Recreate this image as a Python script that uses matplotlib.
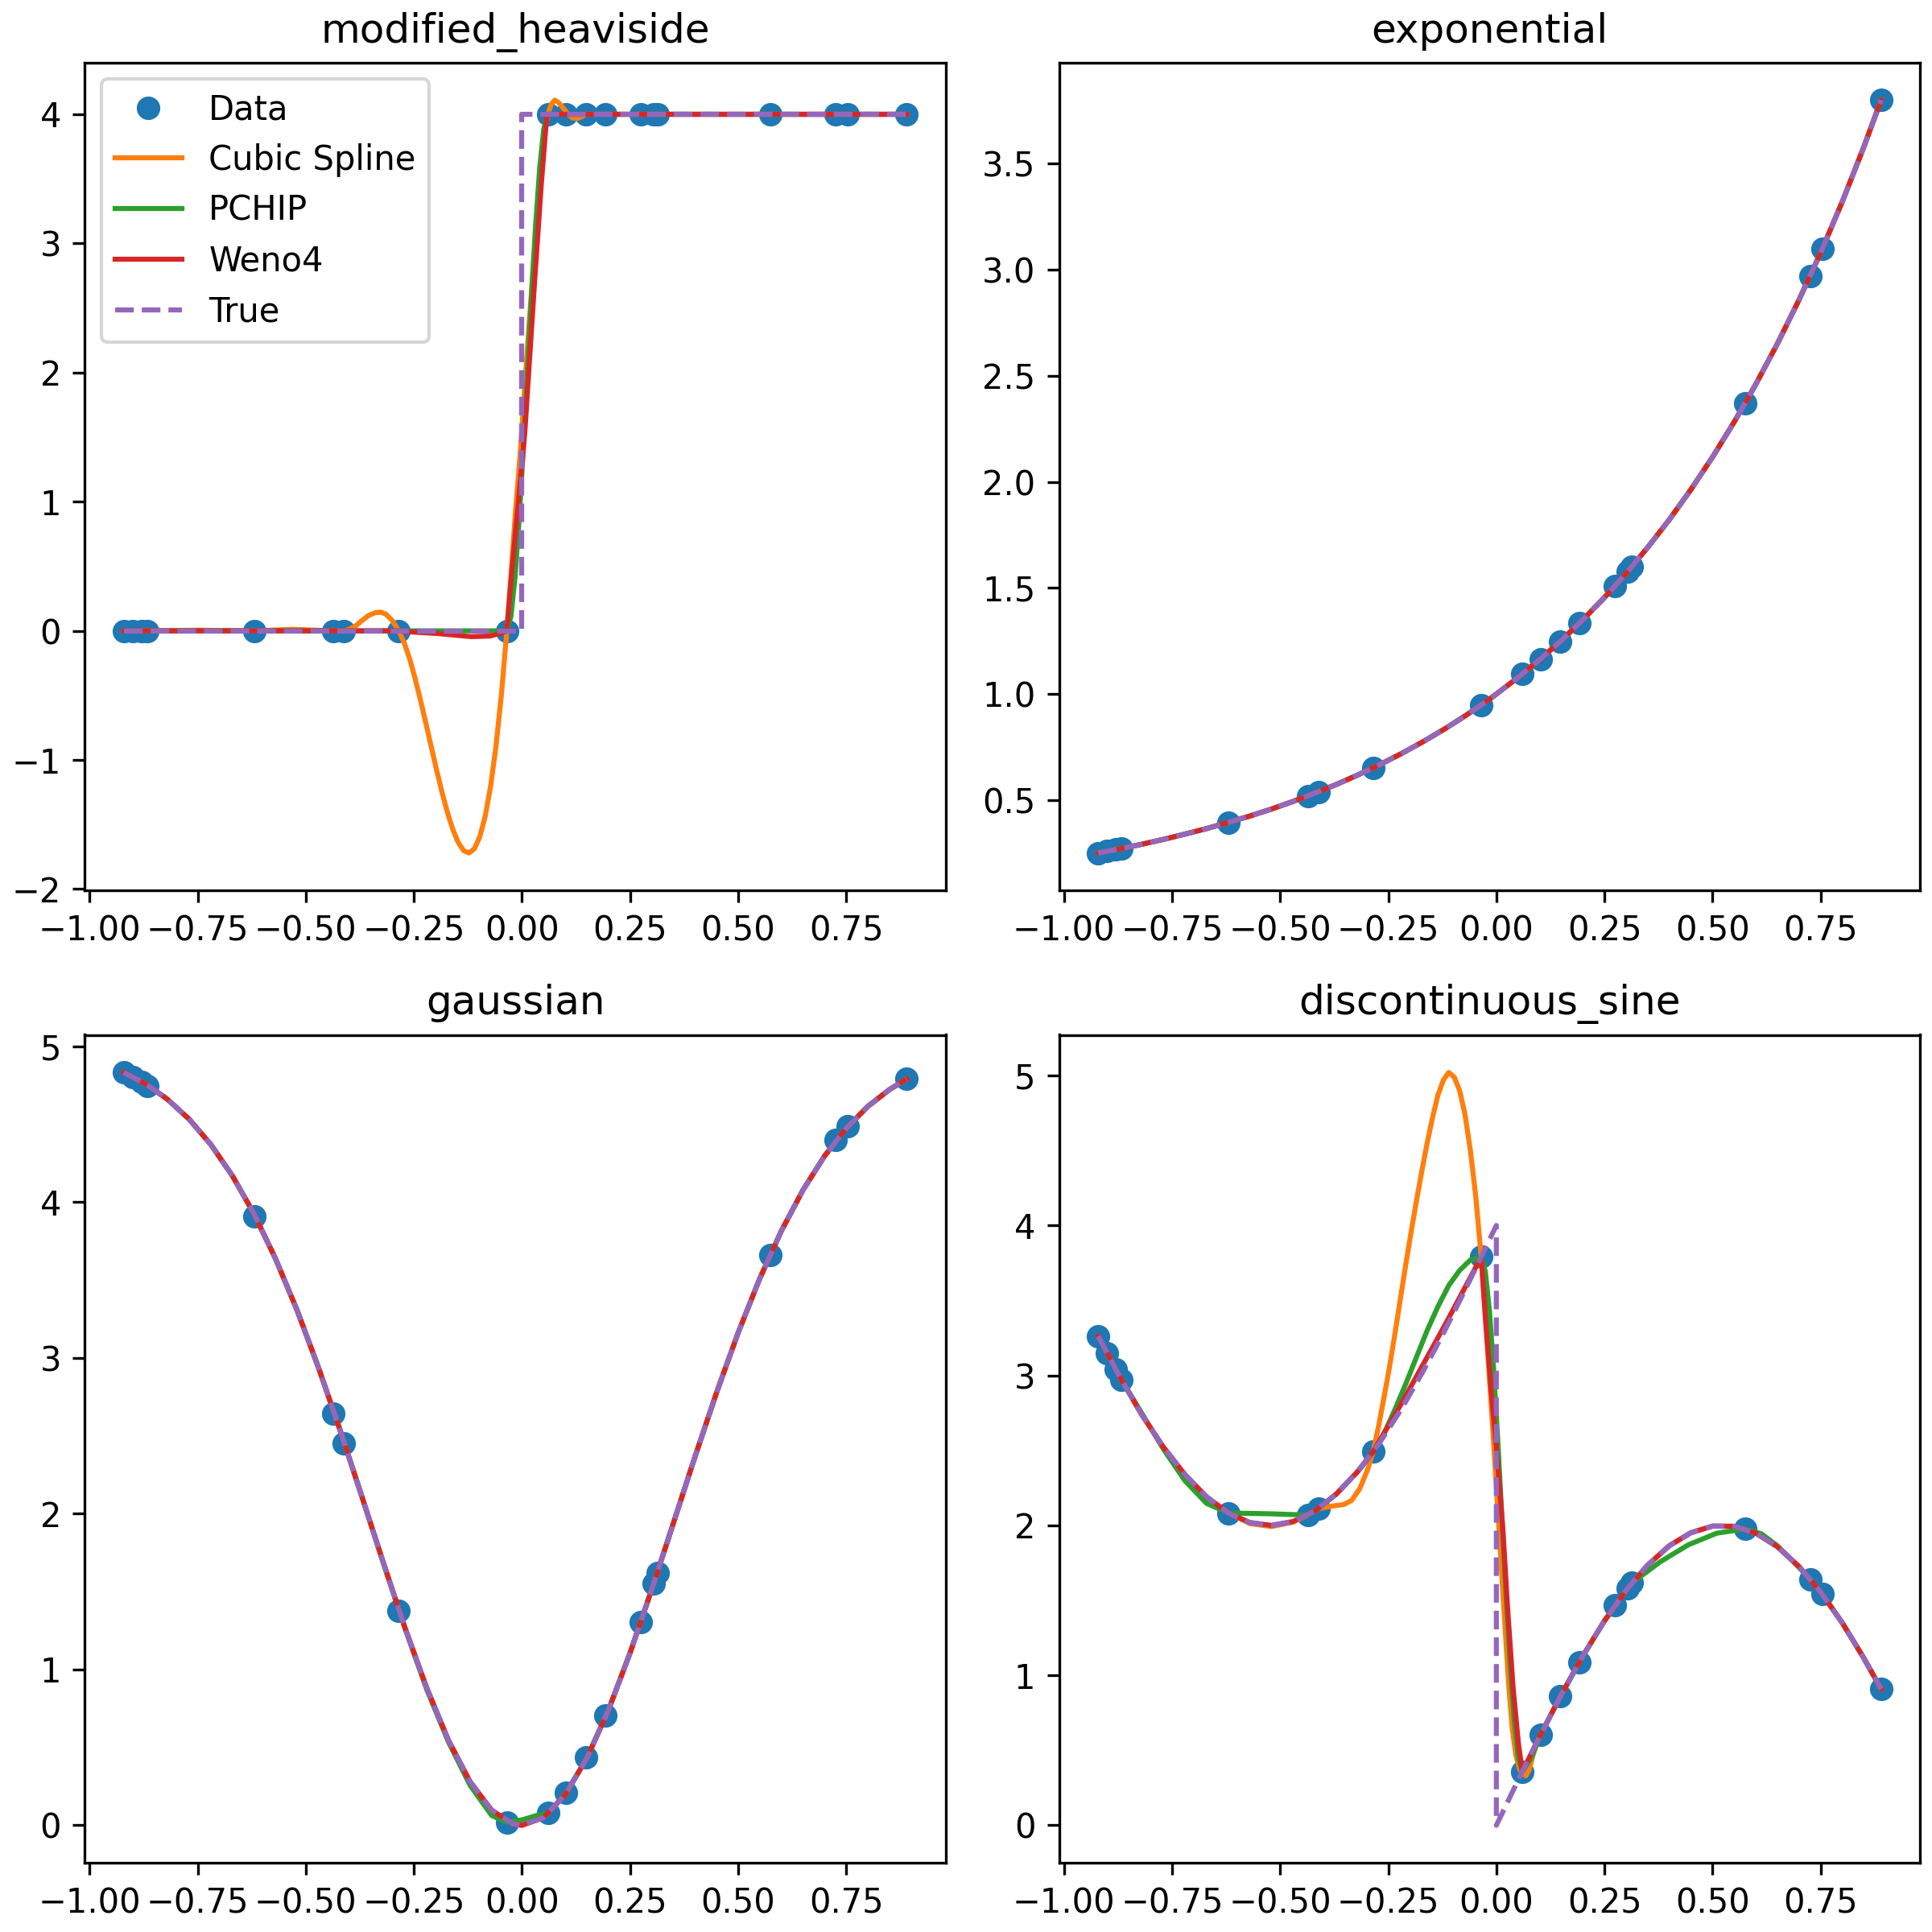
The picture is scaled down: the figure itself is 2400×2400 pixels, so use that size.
import numpy as np
import matplotlib.pyplot as plt

# sample points (same x in every panel)
x_data = [-0.921, -0.900, -0.880, -0.867, -0.619, -0.436, -0.412, -0.285, -0.035, 0.060,
          0.102, 0.148, 0.192, 0.275, 0.304, 0.314, 0.575, 0.726, 0.754, 0.890]

heaviside_data = [0, 0, 0, 0, 0, 0, 0, 0, 0, 4, 4, 4, 4, 4, 4, 4, 4, 4, 4, 4]
exponential_data = [0.251, 0.259, 0.267, 0.272, 0.395, 0.520, 0.539, 0.652, 0.949, 1.094,
                     1.165, 1.249, 1.334, 1.511, 1.578, 1.602, 2.369, 2.971, 3.099, 3.800]
gaussian_data = [4.831, 4.800, 4.770, 4.745, 3.907, 2.645, 2.449, 1.379, 0.019, 0.079,
                 0.207, 0.436, 0.706, 1.304, 1.551, 1.619, 3.659, 4.399, 4.489, 4.793]
sine_data = [3.261, 3.146, 3.039, 2.970, 2.082, 2.069, 2.111, 2.491, 3.790, 0.358,
             0.602, 0.859, 1.089, 1.469, 1.582, 1.617, 1.976, 1.642, 1.542, 0.909]

# curve read-off grid
x_left = [-0.921, -0.87, -0.82, -0.77, -0.72, -0.67, -0.62, -0.57, -0.52, -0.47,
          -0.42, -0.37, -0.32, -0.27, -0.22, -0.17, -0.12, -0.07, -0.02, 0.0]
x_right = [0.0, 0.05, 0.10, 0.15, 0.20, 0.25, 0.30, 0.35, 0.40, 0.45,
           0.50, 0.55, 0.60, 0.65, 0.70, 0.75, 0.80, 0.85, 0.89]

# --- modified_heaviside
heav_true_x = [-0.921, 0.0, 0.0, 0.89]
heav_true_y = [0, 0, 4, 4]

heav_cubic_x = [-0.921, -0.867, -0.75, -0.619, -0.53, -0.436, -0.412, -0.40, -0.384, -0.37,
                -0.355, -0.34, -0.327, -0.315, -0.30, -0.285, -0.2725, -0.26, -0.2475, -0.235,
                -0.2225, -0.21, -0.1975, -0.185, -0.1725, -0.16, -0.1475, -0.135, -0.1225, -0.11,
                -0.0975, -0.085, -0.0725, -0.06, -0.0475, -0.035, -0.025, -0.015, -0.005, 0.005,
                0.015, 0.025, 0.035, 0.045, 0.053, 0.060, 0.068, 0.076, 0.085, 0.095,
                0.107, 0.118, 0.130, 0.140, 0.148, 0.192, 0.89]
heav_cubic_y = [0, 0, 0.005, 0, 0.012, 0, 0, 0.012, 0.04, 0.08,
                0.118, 0.14, 0.145, 0.13, 0.08, 0, -0.091, -0.214, -0.364, -0.532,
                -0.711, -0.895, -1.077, -1.249, -1.405, -1.537, -1.638, -1.702, -1.720, -1.687,
                -1.594, -1.436, -1.204, -0.892, -0.493, 0, 0.45, 0.92, 1.33, 1.82,
                2.30, 2.76, 3.20, 3.60, 3.88, 4.0, 4.08, 4.11, 4.09, 4.05,
                4.0, 3.97, 3.97, 3.985, 4.0, 4.0, 4.0]

heav_pchip_x = [-0.921, -0.035, -0.0255, -0.016, -0.0065, 0.003, 0.0125, 0.022, 0.0315,
                0.041, 0.0505, 0.06, 0.89]
heav_pchip_y = [0, 0, 0.112, 0.416, 0.864, 1.408, 2.0, 2.592, 3.136, 3.584, 3.888, 4.0, 4.0]

heav_weno_x = [-0.921, -0.285, -0.26, -0.198, -0.117, -0.074, -0.05, -0.035, -0.0245,
               0.0065, 0.028, 0.045, 0.057, 0.06, 0.89]
heav_weno_y = [0, 0, -0.008, -0.02, -0.045, -0.04, -0.02, 0, 0.42,
               1.53, 2.64, 3.47, 3.97, 4.0, 4.0]

# --- exponential (all methods overlap the true curve)
exp_curve = [0.251, 0.271, 0.292, 0.315, 0.340, 0.366, 0.395, 0.425, 0.458, 0.494,
             0.533, 0.574, 0.619, 0.667, 0.719, 0.775, 0.835, 0.900, 0.970, 1.000,
             1.078, 1.162, 1.252, 1.350, 1.455, 1.568, 1.691, 1.822, 1.964,
             2.117, 2.282, 2.460, 2.651, 2.858, 3.080, 3.320, 3.579, 3.800]

# --- gaussian
gauss_curve = [4.832, 4.758, 4.660, 4.533, 4.371, 4.170, 3.926, 3.637, 3.305, 2.933,
               2.531, 2.108, 1.680, 1.264, 0.880, 0.546, 0.280, 0.097, 0.008, 0.0,
               0.050, 0.196, 0.430, 0.739, 1.106, 1.512, 1.937, 2.364, 2.776,
               3.161, 3.509, 3.815, 4.077, 4.296, 4.473, 4.614, 4.722, 4.790]
gauss_pchip_x = [-0.921, -0.87, -0.82, -0.77, -0.72, -0.67, -0.62, -0.57, -0.52, -0.47,
                 -0.42, -0.37, -0.32, -0.27, -0.22, -0.17, -0.12, -0.07, -0.035, 0.0,
                 0.03, 0.06, 0.10, 0.15, 0.20, 0.25, 0.30, 0.35, 0.40, 0.45,
                 0.50, 0.55, 0.60, 0.65, 0.70, 0.75, 0.80, 0.85, 0.89]
gauss_pchip_y = [4.832, 4.758, 4.660, 4.533, 4.371, 4.170, 3.926, 3.637, 3.305, 2.933,
                 2.531, 2.108, 1.680, 1.260, 0.870, 0.535, 0.257, 0.063, 0.019, 0.035,
                 0.060, 0.079, 0.200, 0.430, 0.739, 1.106, 1.512, 1.937, 2.364, 2.776,
                 3.161, 3.509, 3.815, 4.077, 4.296, 4.473, 4.614, 4.722, 4.790]

# --- discontinuous_sine
sine_true_left = [3.261, 2.986, 2.737, 2.522, 2.338, 2.190, 2.083, 2.019, 2.000, 2.026,
                  2.096, 2.209, 2.362, 2.551, 2.774, 3.024, 3.295, 3.583, 3.880, 4.000]
sine_true_right = [0.0, 0.299, 0.591, 0.870, 1.129, 1.363, 1.567, 1.735, 1.864, 1.951,
                   1.995, 1.994, 1.948, 1.858, 1.726, 1.556, 1.351, 1.115, 0.909]

sine_cubic_x = [-0.921, -0.87, -0.82, -0.77, -0.72, -0.67, -0.619, -0.57, -0.52, -0.47,
                -0.436, -0.412, -0.38, -0.354, -0.335, -0.316, -0.298, -0.285, -0.2725, -0.26,
                -0.2475, -0.235, -0.2225, -0.21, -0.1975, -0.185, -0.1725, -0.16, -0.1475, -0.135,
                -0.1225, -0.11, -0.0975, -0.085, -0.0725, -0.06, -0.0475, -0.035, -0.027, -0.018,
                -0.008, 0.0, 0.006, 0.0175, 0.029, 0.037, 0.045, 0.054, 0.060, 0.068,
                0.076, 0.084, 0.093, 0.102, 0.15, 0.20, 0.25, 0.30, 0.35, 0.40,
                0.45, 0.50, 0.55, 0.60, 0.65, 0.70, 0.75, 0.80, 0.85, 0.89]
sine_cubic_y = [3.261, 2.986, 2.737, 2.520, 2.334, 2.184, 2.082, 2.012, 1.992, 2.022,
                2.069, 2.111, 2.129, 2.138, 2.165, 2.245, 2.37, 2.491, 2.66, 2.85,
                3.05, 3.27, 3.50, 3.73, 3.95, 4.16, 4.36, 4.55, 4.72, 4.87,
                4.97, 5.02, 4.99, 4.90, 4.74, 4.50, 4.19, 3.79, 3.45, 3.07,
                2.63, 2.26, 1.98, 1.44, 0.92, 0.64, 0.47, 0.37, 0.358, 0.33,
                0.37, 0.46, 0.54, 0.602, 0.870, 1.129, 1.363, 1.567, 1.735, 1.864,
                1.951, 1.995, 1.994, 1.948, 1.858, 1.726, 1.556, 1.351, 1.115, 0.909]

sine_pchip_x = [-0.921, -0.87, -0.82, -0.77, -0.72, -0.67, -0.619, -0.57, -0.52, -0.47,
                -0.436, -0.412, -0.37, -0.32, -0.285, -0.26, -0.235, -0.21, -0.185, -0.16,
                -0.135, -0.11, -0.085, -0.06, -0.035, -0.0255, -0.016, -0.0065, 0.003, 0.0125,
                0.022, 0.0315, 0.041, 0.0505, 0.06, 0.081, 0.102, 0.15, 0.20, 0.25,
                0.314, 0.379, 0.4445, 0.51, 0.575, 0.613, 0.65, 0.688, 0.726, 0.754,
                0.80, 0.85, 0.89]
sine_pchip_y = [3.261, 2.986, 2.747, 2.509, 2.297, 2.146, 2.082, 2.080, 2.077, 2.072,
                2.069, 2.111, 2.21, 2.36, 2.491, 2.61, 2.77, 2.94, 3.12, 3.30,
                3.46, 3.60, 3.70, 3.77, 3.79, 3.694, 3.433, 3.049, 2.582, 2.074,
                1.566, 1.099, 0.715, 0.454, 0.358, 0.45, 0.602, 0.870, 1.129, 1.363,
                1.617, 1.757, 1.871, 1.948, 1.976, 1.944, 1.864, 1.755, 1.642, 1.542,
                1.351, 1.115, 0.909]

sine_weno_x = [-0.921, -0.87, -0.82, -0.77, -0.72, -0.67, -0.62, -0.57, -0.52, -0.47,
               -0.42, -0.37, -0.32, -0.285, -0.27, -0.22, -0.17, -0.12, -0.07, -0.035,
               -0.025, -0.012, 0.0, 0.015, 0.026, 0.039, 0.051, 0.06, 0.10, 0.15,
               0.20, 0.25, 0.30, 0.35, 0.40, 0.45, 0.50, 0.55, 0.60, 0.65,
               0.70, 0.75, 0.80, 0.85, 0.89]
sine_weno_y = [3.261, 2.986, 2.737, 2.522, 2.338, 2.190, 2.083, 2.019, 2.000, 2.026,
               2.096, 2.209, 2.362, 2.491, 2.565, 2.81, 3.07, 3.33, 3.60, 3.79,
               3.38, 2.90, 2.52, 1.98, 1.45, 0.91, 0.55, 0.358, 0.591, 0.870,
               1.129, 1.363, 1.567, 1.735, 1.864, 1.951, 1.995, 1.994, 1.948, 1.858,
               1.726, 1.556, 1.351, 1.115, 0.909]


x_smooth = x_left + x_right[1:]

panels = [
    ("modified_heaviside", heaviside_data,
     (heav_cubic_x, heav_cubic_y), (heav_pchip_x, heav_pchip_y),
     (heav_weno_x, heav_weno_y), (heav_true_x, heav_true_y)),
    ("exponential", exponential_data,
     (x_smooth, exp_curve), (x_smooth, exp_curve),
     (x_smooth, exp_curve), (x_smooth, exp_curve)),
    ("gaussian", gaussian_data,
     (x_smooth, gauss_curve), (gauss_pchip_x, gauss_pchip_y),
     (x_smooth, gauss_curve), (x_smooth, gauss_curve)),
    ("discontinuous_sine", sine_data,
     (sine_cubic_x, sine_cubic_y), (sine_pchip_x, sine_pchip_y),
     (sine_weno_x, sine_weno_y), (x_left + x_right, sine_true_left + sine_true_right)),
]

fig, axs = plt.subplots(2, 2, figsize=(8, 8), dpi=300)

for ax, (name, yd, cub, pch, wen, tru) in zip(axs.flat, panels):
    ax.plot(x_data, yd, 'o', label='Data')
    ax.plot(cub[0], cub[1], label='Cubic Spline')
    ax.plot(pch[0], pch[1], label='PCHIP')
    ax.plot(wen[0], wen[1], label='Weno4')
    ax.plot(tru[0], tru[1], '--', label='True')
    ax.set_title(name)

axs[0, 0].legend(loc='upper left')

fig.tight_layout(pad=0.35, h_pad=1.08, w_pad=1.08)
fig.savefig("out.png", dpi=300)
